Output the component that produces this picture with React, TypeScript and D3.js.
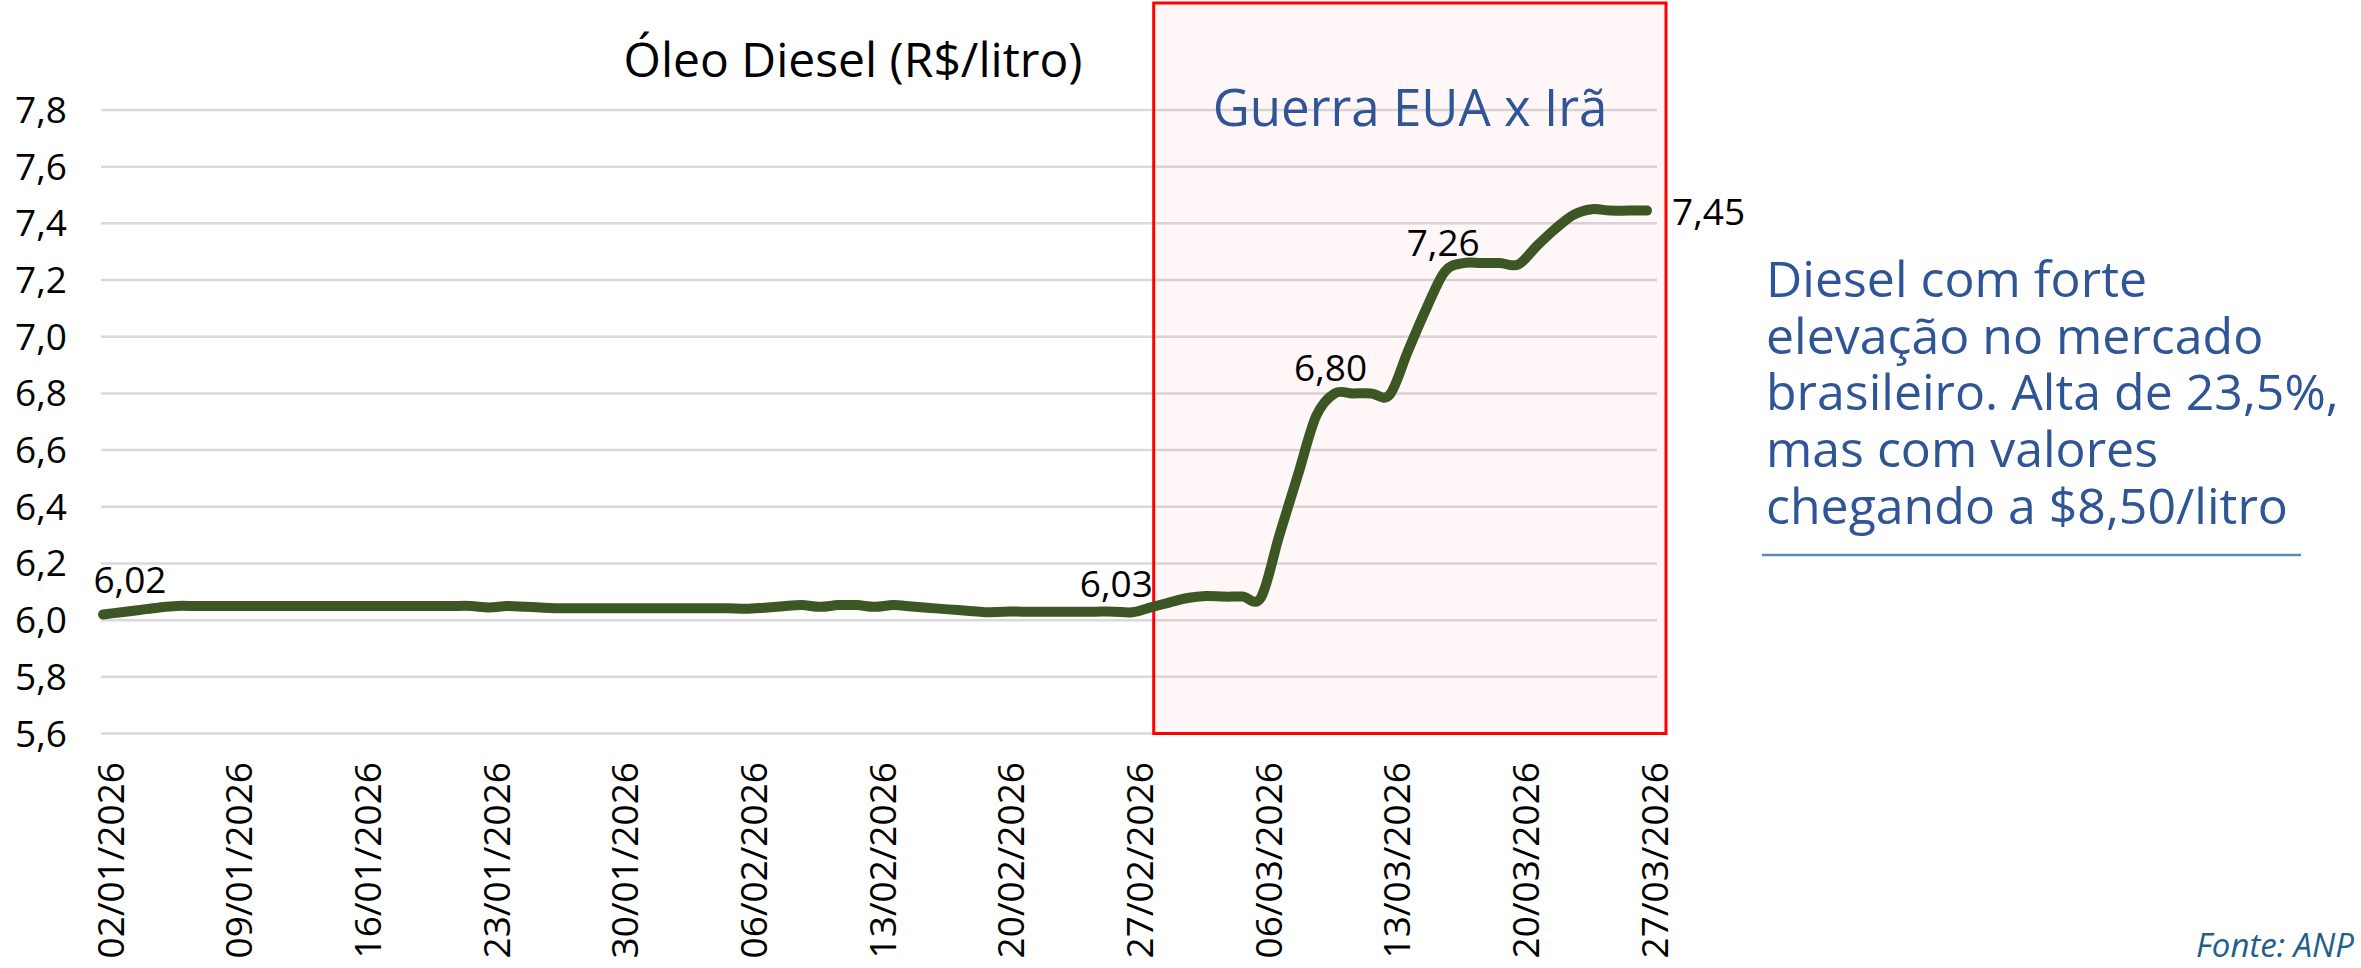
import React from "react";
import * as d3 from "d3";

// ---- data (daily prices, R$/litro) ----
const firstDay = "2026-01-02";
const lastDay = "2026-03-27";
// 02/01 .. 31/01
const janPrices = [
  6.02, 6.028, 6.036, 6.044, 6.05, 6.05, 6.05, 6.05, 6.05, 6.05,
  6.05, 6.05, 6.05, 6.05, 6.05, 6.05, 6.05, 6.05, 6.05, 6.05,
  6.05, 6.045, 6.05, 6.047, 6.044, 6.042, 6.042, 6.042, 6.042, 6.042,
];
// 01/02 .. 28/02
const febPrices = [
  6.042, 6.042, 6.042, 6.042, 6.042, 6.04, 6.044, 6.049, 6.053, 6.047,
  6.053, 6.053, 6.047, 6.053, 6.048, 6.043, 6.038, 6.033, 6.028, 6.03,
  6.03, 6.03, 6.03, 6.03, 6.03, 6.03, 6.028, 6.045,
];
// 01/03 .. 27/03
const marPrices = [
  6.062, 6.078, 6.085, 6.083, 6.083, 6.08, 6.3, 6.51, 6.72, 6.8,
  6.8, 6.8, 6.795, 6.95, 7.1, 7.23, 7.26, 7.26, 7.26, 7.255,
  7.32, 7.38, 7.43, 7.45, 7.445, 7.445, 7.445,
];
const xTickLabels = [
  "02/01/2026", "09/01/2026", "16/01/2026", "23/01/2026", "30/01/2026", "06/02/2026",
  "13/02/2026", "20/02/2026", "27/02/2026", "06/03/2026", "13/03/2026", "20/03/2026",
  "27/03/2026",
];
const yTicks = [5.6, 5.8, 6.0, 6.2, 6.4, 6.6, 6.8, 7.0, 7.2, 7.4, 7.6, 7.8];
const labelDates = ["2026-01-02", "2026-02-27", "2026-03-10", "2026-03-17", "2026-03-27"];
const labelTexts = ["6,02", "6,03", "6,80", "7,26", "7,45"];
const title = "Óleo Diesel (R$/litro)";
const periodLabel = "Guerra EUA x Irã";
const periodStart = "2026-02-28";
const noteLines = [
  "Diesel com forte",
  "elevação no mercado",
  "brasileiro. Alta de 23,5%,",
  "mas com valores",
  "chegando a $8,50/litro",
];
const source = "Fonte: ANP";

const W = 2361;
const H = 968;
const FONT = "'Open Sans', sans-serif";

export default function App() {
  const parse = d3.utcParse("%Y-%m-%d");
  const parseTick = d3.utcParse("%d/%m/%Y");
  const start = parse(firstDay) as Date;
  const end = parse(lastDay) as Date;
  const days = d3.utcDay.range(start, d3.utcDay.offset(end, 1));
  const prices = [...janPrices, ...febPrices, ...marPrices];
  const pts = days.map((d, i) => ({ date: d, v: prices[i] }));
  const fmtKey = d3.utcFormat("%Y-%m-%d");

  const x = d3.scaleUtc().domain([start, end]).range([103, 1647]);
  const y = d3.scaleLinear().domain([5.6, 7.8]).range([733.5, 110]);

  const plotLeft = 101;
  const plotRight = 1657;

  const line = d3
    .line<{ date: Date; v: number }>()
    .x((d) => x(d.date))
    .y((d) => y(d.v))
    .curve(d3.curveCardinal.tension(0));

  const fmt = (v: number) => v.toFixed(1).replace(".", ",");

  const labelOffsets = [
    { dx: 27, dy: -21, anchor: "middle" },
    { dx: -16, dy: -15, anchor: "middle" },
    { dx: -4, dy: -12, anchor: "middle" },
    { dx: -20, dy: -7, anchor: "middle" },
    { dx: 25, dy: 14, anchor: "start" },
  ];

  const boxX = x(parse(periodStart) as Date) + 3;
  const boxR = plotRight + 9;
  const boxTop = 3;
  const boxBottom = y(5.6);

  return (
    <svg
      width={W}
      height={H}
      style={{ position: "absolute", left: 0, top: 0, background: "#fff" }}
      fontFamily={FONT}
    >
      <defs>
        <linearGradient id="topline" x1="0" x2="1" y1="0" y2="0">
          <stop offset="0" stopColor="#5a95bd" />
          <stop offset="0.45" stopColor="#185a86" />
          <stop offset="0.85" stopColor="#24678f" />
          <stop offset="1" stopColor="#6fa5c8" />
        </linearGradient>
      </defs>
      <rect x={0} y={0} width={W} height={H} fill="#fff" />
      <line x1={20} x2={2218} y1={5} y2={5} stroke="url(#topline)" strokeWidth={2.5} />

      {/* gridlines */}
      {yTicks.map((t) => (
        <line
          key={t}
          x1={plotLeft}
          x2={plotRight}
          y1={y(t)}
          y2={y(t)}
          stroke="#d9d9d9"
          strokeWidth={2.5}
        />
      ))}

      {/* y tick labels */}
      {yTicks.map((t) => (
        <text
          key={"yl" + t}
          x={67}
          y={y(t) + 13}
          textAnchor="end"
          fontSize={37}
          fill="#000"
        >
          {fmt(t)}
        </text>
      ))}

      {/* highlight box */}
      <rect
        x={boxX}
        y={boxTop}
        width={boxR - boxX}
        height={boxBottom - boxTop}
        fill="#e8334a"
        fillOpacity={0.045}
        stroke="#ff0000"
        strokeWidth={3}
      />

      {/* series line */}
      <path
        d={line(pts) || ""}
        fill="none"
        stroke="#3c5724"
        strokeWidth={10}
        strokeLinejoin="round"
        strokeLinecap="round"
      />

      {/* data labels */}
      {labelDates.map((ld, i) => {
        const p = pts.find((q) => fmtKey(q.date) === ld)!;
        const o = labelOffsets[i];
        return (
          <text
            key={"dl" + i}
            x={x(p.date) + o.dx}
            y={y(p.v) + o.dy}
            textAnchor={o.anchor}
            fontSize={37}
            fill="#000"
          >
            {labelTexts[i]}
          </text>
        );
      })}

      {/* x tick labels */}
      {xTickLabels.map((t) => {
        const px = x(parseTick(t) as Date) + 6;
        return (
          <text
            key={t}
            transform={`translate(${px},762) rotate(-90)`}
            textAnchor="end"
            dominantBaseline="central"
            fontSize={37}
            fill="#000"
          >
            {t}
          </text>
        );
      })}

      {/* title */}
      <text x={853} y={77} textAnchor="middle" fontSize={48} fill="#000">
        {title}
      </text>

      {/* period label */}
      <text x={1410} y={126} textAnchor="middle" fontSize={51} fill="#2f5597">
        {periodLabel}
      </text>

      {/* note */}
      {noteLines.map((l, i) => (
        <text key={"n" + i} x={1766} y={297 + i * 56.7} fontSize={50} fill="#2f5597">
          {l}
        </text>
      ))}
      <line x1={1762} x2={2301} y1={555} y2={555} stroke="#5b8db8" strokeWidth={2.5} />

      {/* source */}
      <text
        x={2354}
        y={957}
        textAnchor="end"
        fontSize={33}
        fontStyle="italic"
        fill="#1f5f8b"
      >
        {source}
      </text>
    </svg>
  );
}
